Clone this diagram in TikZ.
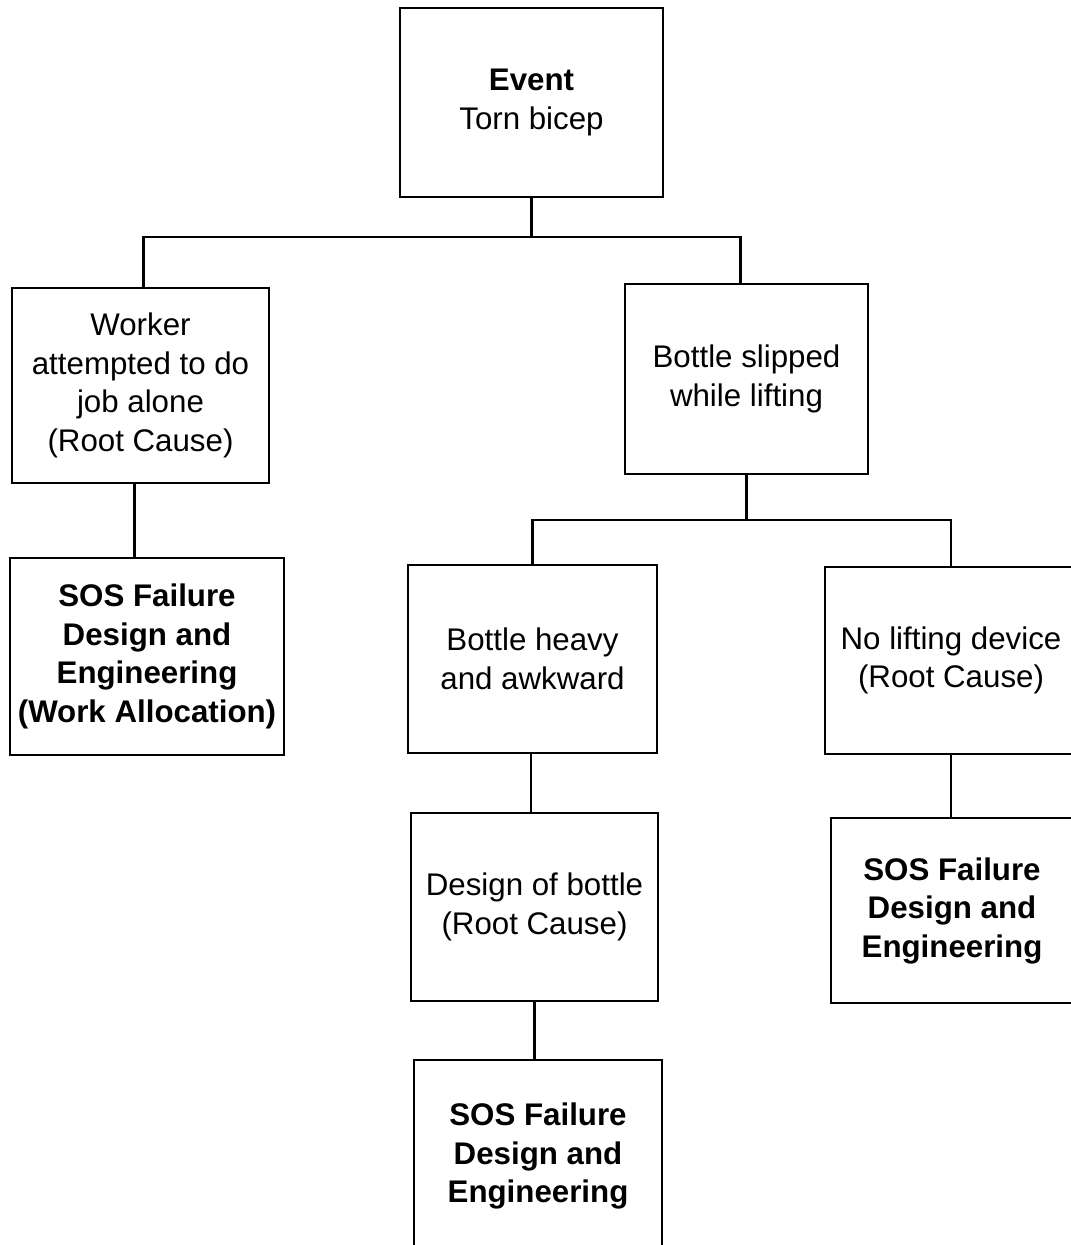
\documentclass[tikz,border=0pt]{standalone}
\usepackage{fontspec}
\setmainfont{Liberation Sans}
\usepackage{xcolor}

\begin{document}
\begin{tikzpicture}[x=0.02cm, y=-0.02cm,
  box/.style={draw=black, line width=1.2pt, align=center, inner sep=0pt,
    font=\fontsize{17.8}{21.9}\selectfont},
  link/.style={draw=black, line width=1.2pt}]
  \useasboundingbox[fill=white] (0,0) rectangle (1071,1245);
  \clip (0,0) rectangle (1071,1245);

  % Event
  \node[box, minimum width=5.26cm, minimum height=3.78cm] (event) at (531.5,102.5)
    {\textbf{Event}\\Torn bicep};

  % Second level
  \node[box, minimum width=5.14cm, minimum height=3.9cm] (worker) at (140.5,385.5)
    {Worker\\attempted to do\\job alone\\(Root Cause)};
  \node[box, minimum width=4.86cm, minimum height=3.8cm] (slip) at (746.5,379)
    {Bottle slipped\\while lifting};

  % Third level
  \node[box, minimum width=5.48cm, minimum height=3.94cm] (sosA) at (147,656.5)
    {\textbf{SOS Failure}\\\textbf{Design and}\\\textbf{Engineering}\\\textbf{(Work Allocation)}};
  \node[box, minimum width=4.98cm, minimum height=3.76cm] (heavy) at (532.5,659)
    {Bottle heavy\\and awkward};
  \node[box, minimum width=5.04cm, minimum height=3.74cm] (nolift) at (951,660.5)
    {No lifting device\\(Root Cause)};

  % Fourth level
  \node[box, minimum width=4.94cm, minimum height=3.76cm] (design) at (534.5,907)
    {Design of bottle\\(Root Cause)};
  \node[box, minimum width=4.84cm, minimum height=3.7cm] (sosC) at (952,910.5)
    {\textbf{SOS Failure}\\\textbf{Design and}\\\textbf{Engineering}};

  % Bottom
  \node[box, minimum width=4.96cm, minimum height=3.84cm] (sosB) at (538,1156)
    {\textbf{SOS Failure}\\\textbf{Design and}\\\textbf{Engineering}};

  % Connectors
  \coordinate (split1) at (531.5,237);
  \coordinate (split2) at (746.5,520);
  \draw[link] (event.south) -- (split1);
  \draw[link] ([xshift=0.06cm]worker.north) |- (split1) -| ([xshift=-0.12cm]slip.north);
  \draw[link] (slip.south) -- (split2);
  \draw[link] (heavy.north) |- (split2) -| (nolift.north);
  \draw[link] ([xshift=-0.12cm]worker.south) -- ([xshift=-0.12cm]worker.south |- sosA.north);
  \draw[link] ([xshift=-0.03cm]heavy.south) -- ([xshift=-0.03cm]heavy.south |- design.north);
  \draw[link] (design.south) -- (design.south |- sosB.north);
  \draw[link] (nolift.south) -- (nolift.south |- sosC.north);
\end{tikzpicture}
\end{document}
